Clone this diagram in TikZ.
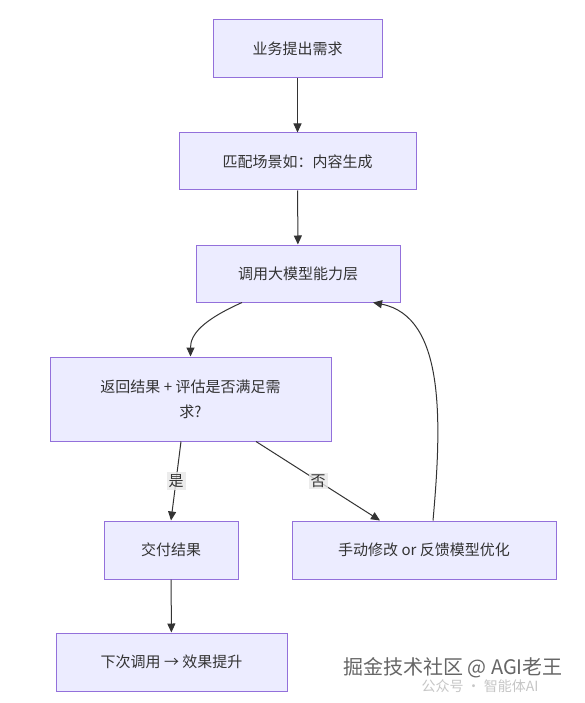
\documentclass[tikz,border=0pt]{standalone}
\usepackage{fontspec}
\setmainfont{Liberation Sans}
\newfontfamily\cjk{Noto Sans CJK SC}
\usetikzlibrary{arrows.meta}
\definecolor{fillcol}{HTML}{ECECFF}
\definecolor{bordercol}{HTML}{9370DB}
\definecolor{textcol}{HTML}{333333}
\definecolor{lblcol}{HTML}{E8E8E8}
\begin{document}
\begin{tikzpicture}[x=1pt,y=-1pt,
  box/.style={draw=bordercol, fill=fillcol, line width=1pt, inner sep=0pt,
    font=\cjk\fontsize{15}{25}\selectfont, text=textcol, align=center},
  arr/.style={draw=textcol, line width=1pt, -{Triangle[length=9pt,width=8pt]}},
  lbl/.style={fill=lblcol, fill opacity=0.8, text opacity=1, inner sep=2pt,
    font=\cjk\fontsize{15}{18}\selectfont, text=textcol}]
\useasboundingbox (0,0) rectangle (585,703);
\fill[white] (0,0) rectangle (585,703);

\node[box, minimum width=169pt, minimum height=58pt] (b1) at (297.5,49) {业务提出需求};
\node[box, minimum width=237pt, minimum height=57pt] (b2) at (297.5,161.5) {匹配场景如：内容生成};
\node[box, minimum width=204pt, minimum height=57pt] (b3) at (298,273.5) {调用大模型能力层};
\node[box, minimum width=281pt, minimum height=84pt] (b4) at (190.5,399) {返回结果 + 评估是否满足需\\求?};
\node[box, minimum width=134pt, minimum height=58pt] (b5) at (171,550) {交付结果};
\node[box, minimum width=264pt, minimum height=58pt] (b6) at (424,550) {手动修改 or 反馈模型优化};
\node[box, minimum width=231pt, minimum height=58pt] (b7) at (171.5,662) {下次调用 → 效果提升};

\draw[arr] (b1) -- (b2);
\draw[arr] (b2) -- (b3);
\draw[arr] ([xshift=-56pt]b3.south) .. controls +(-40,18) and +(0,-22) .. (b4.north);
\draw[arr] ([xshift=-9.5pt]b4.south) -- node[lbl] (ly) {是} (b5.north);
\draw[arr] ([xshift=65.5pt]b4.south) -- node[lbl] (ln) {否} ([xshift=-44pt]b6.north);
\draw[arr] ([xshift=9pt]b6.north) .. controls +(9,-100) and +(72,14) .. ([xshift=75pt]b3.south);
\draw[arr] (b5) -- (b7);

\node[font=\cjk\fontsize{14}{16}\selectfont, text=gray!45, anchor=west] (wm2) at (418,686) {公众号 · 智能体AI};
\node[font=\cjk\fontsize{20}{22}\selectfont, text=white] (wm1s) at (454,669) {掘金技术社区 @ AGI老王};
\node[font=\cjk\fontsize{20}{22}\selectfont, text=black!60] (wm1) at (453,668) {掘金技术社区 @ AGI老王};
\end{tikzpicture}
\end{document}
